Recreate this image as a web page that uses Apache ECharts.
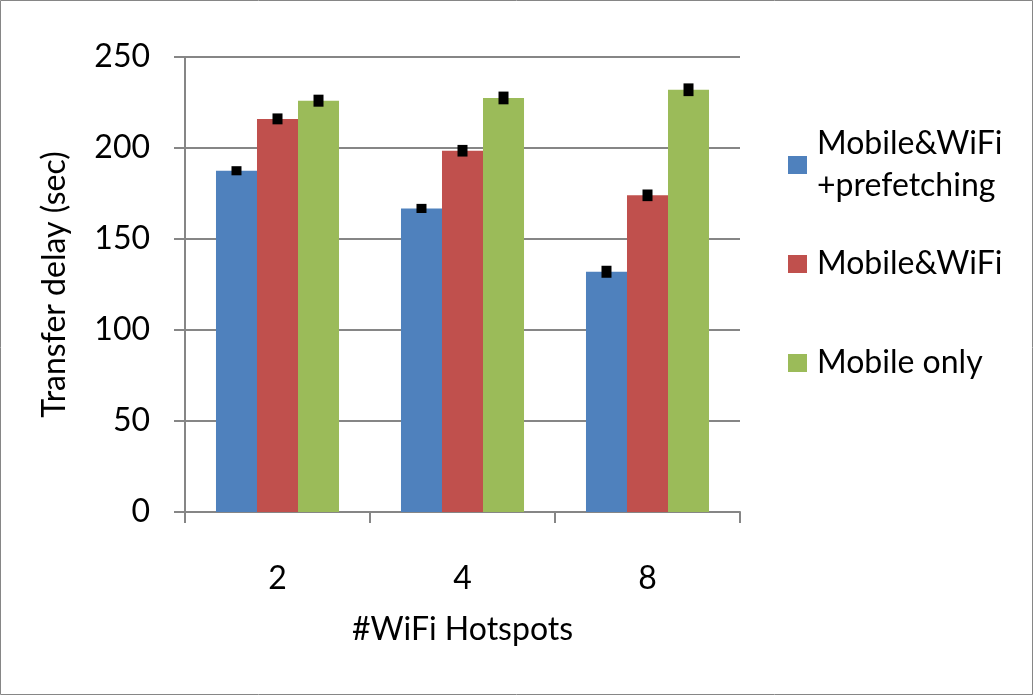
<!DOCTYPE html>
<html>
<head>
<meta charset="utf-8">
<script src="https://cdn.jsdelivr.net/npm/echarts@6/dist/echarts.min.js"></script>
<style>
html,body{margin:0;padding:0;background:#fff;}
#c{width:1033px;height:695px;}
</style>
</head>
<body>
<div id="c"></div>
<script>
const categories = ['2', '4', '8'];
const seriesNames = ['Mobile&WiFi\n+prefetching', 'Mobile&WiFi', 'Mobile only'];
const prefetchValues = [187.5, 166.8, 132];
const wifiValues = [216, 198.5, 174];
const mobileValues = [226, 227.5, 232];
const prefetchErr = [2.5, 2.5, 3.3];
const wifiErr = [3, 3.2, 3.2];
const mobileErr = [3.3, 3.5, 3.5];
const yTicks = [0, 50, 100, 150, 200, 250];

const colors = ['#4f81bd', '#c0504d', '#9bbb59'];
const FONT = 'Lato';
const FS = 32;
const values = [prefetchValues, wifiValues, mobileValues];
const errs = [prefetchErr, wifiErr, mobileErr];
const catGap = 0.335;

const chart = echarts.init(document.getElementById('c'), null, {renderer: 'canvas'});

const barSeries = values.map((v, i) => ({
  type: 'bar',
  name: seriesNames[i],
  data: v,
  barGap: '0%',
  barCategoryGap: (catGap * 100) + '%',
  itemStyle: {color: colors[i]},
  emphasis: {disabled: true},
  animation: false,
  z: 2
}));

const errSeries = values.map((v, i) => ({
  type: 'custom',
  name: 'err' + i,
  data: v.map((val, j) => [j, val, errs[i][j]]),
  renderItem: function (params, api) {
    const catW = api.size([1, 0])[0];
    const barW = catW * (1 - catGap) / 3;
    const center = api.coord([api.value(0), api.value(1)]);
    const cx = center[0] + (i - 1) * barW;
    const top = api.coord([api.value(0), api.value(1) + api.value(2)])[1];
    const bot = api.coord([api.value(0), api.value(1) - api.value(2)])[1];
    const w = 10;
    return {
      type: 'rect',
      shape: {x: cx - w / 2, y: top, width: w, height: bot - top},
      style: {fill: '#000'}
    };
  },
  silent: true,
  animation: false,
  z: 5
}));

function legendFor(i, top, extraPad) {
  return {
    show: true,
    orient: 'vertical',
    left: 788,
    top: top,
    itemWidth: 19,
    itemHeight: 18,
    icon: 'rect',
    selectedMode: false,
    padding: 0,
    data: [{name: seriesNames[i], textStyle: {padding: extraPad}}],
    textStyle: {fontFamily: FONT, fontSize: FS, color: '#000', lineHeight: 42}
  };
}

chart.setOption({
  animation: false,
  backgroundColor: '#fff',
  graphic: [{
    type: 'rect',
    shape: {x: 0.5, y: 0.5, width: 1032, height: 694},
    style: {fill: 'none', stroke: '#868686', lineWidth: 1},
    silent: true
  }],
  legend: [
    legendFor(0, 102, [42, 0, 0, 5]),
    legendFor(1, 243, [0, 0, 0, 5]),
    legendFor(2, 342, [0, 0, 0, 5])
  ],
  grid: {left: 185, right: 293, top: 57, bottom: 183, containLabel: false},
  xAxis: {
    type: 'category',
    data: categories,
    name: '#WiFi Hotspots',
    nameLocation: 'middle',
    nameGap: 102,
    nameTextStyle: {fontFamily: FONT, fontSize: FS, color: '#000'},
    axisLine: {show: true, lineStyle: {color: '#868686', width: 2}},
    axisTick: {show: true, inside: false, length: 11, alignWithLabel: false, lineStyle: {color: '#868686', width: 2}},
    axisLabel: {fontFamily: FONT, fontSize: FS, color: '#000', margin: 51},
    splitLine: {show: false}
  },
  yAxis: {
    type: 'value',
    min: 0,
    max: 250,
    interval: 50,
    name: 'Transfer delay (sec)',
    nameLocation: 'middle',
    nameGap: 114,
    nameRotate: 90,
    nameTextStyle: {fontFamily: FONT, fontSize: FS, color: '#000'},
    axisLine: {show: true, lineStyle: {color: '#868686', width: 2}},
    axisTick: {show: true, inside: false, length: 11, lineStyle: {color: '#868686', width: 2}},
    axisLabel: {fontFamily: FONT, fontSize: FS, color: '#000', margin: 35,
      formatter: function (v) { return yTicks.indexOf(v) >= 0 ? String(v) : ''; }},
    splitLine: {show: true, lineStyle: {color: '#868686', width: 2}}
  },
  series: barSeries.concat(errSeries)
});
</script>
</body>
</html>
